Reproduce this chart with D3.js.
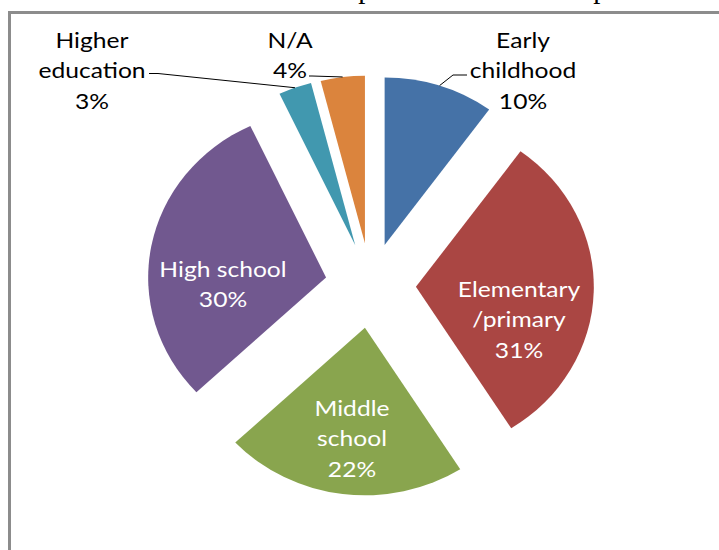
<!DOCTYPE html>
<html>
<head>
<meta charset="utf-8">
<script src="https://cdn.jsdelivr.net/npm/d3@7"></script>
<style>
  html, body { margin: 0; padding: 0; background: #fff; }
  svg { display: block; }
</style>
</head>
<body>
<svg id="chart" width="719" height="550"></svg>
<script>
// School levels and their share of respondents (percent)
const categories = ["Early childhood", "Elementary/primary", "Middle school", "High school", "Higher education", "N/A"];
const shares = [10, 31, 22, 30, 3, 4];
const labelLines = [["Early", "childhood"], ["Elementary", "/primary"], ["Middle", "school"], ["High school"], ["Higher", "education"], ["N/A"]];
const colors = ["#4572A7", "#AA4643", "#89A54E", "#71588F", "#4198AF", "#DB843D"];
const titleText = "Levels of schools represented in the sample";

// Layout
const W = 719, H = 550;
const cx = 370.6, cy = 285.5;      // pie centre
const R = 167.5;                    // radius (vertical)
const stretchX = 1.062;             // horizontal stretch of the plot area
const explode = 42.7;               // distance every slice is pulled out
const fontSize = 22;
const textStretch = 1.12;           // horizontal widening of label glyphs
const lineH = 30.5;

// Label blocks: centre x and first-line centre y; leader = elbow point for outside labels
const labelLayout = [
  { x: 523, y: 40, inside: false, leader: [[467, 75], [453, 75]] },
  { x: 519, y: 289, inside: true },
  { x: 352, y: 408, inside: true },
  { x: 223, y: 269, inside: true },
  { x: 92, y: 40, inside: false, leader: [[149, 73.5], [158, 73.5]] },
  { x: 290, y: 40, inside: false, leader: [[309, 76], [312, 76]] }
];

const svg = d3.select("#chart");

// Title (runs above the visible area)
svg.append("text")
  .attr("x", 128).attr("y", -2)
  .attr("font-family", "'Liberation Serif', 'DejaVu Serif', serif")
  .attr("font-size", 28.7)
  .attr("fill", "#000")
  .text(titleText);

// Chart area frame
svg.append("rect")
  .attr("x", 9.5).attr("y", 12.5)
  .attr("width", 800).attr("height", 700)
  .attr("fill", "none")
  .attr("stroke", "#8c8c8c")
  .attr("stroke-width", 3);

const pie = d3.pie().sort(null).value(d => d)(shares);
const arc = d3.arc().innerRadius(0).outerRadius(R);

// Offset of a slice along its bisector, in page pixels
function offset(d) {
  const a = (d.startAngle + d.endAngle) / 2;
  return [stretchX * explode * Math.sin(a), -explode * Math.cos(a)];
}
// Point on a slice's outer edge at its bisector, in page pixels
function rimPoint(d) {
  const a = (d.startAngle + d.endAngle) / 2;
  const [ox, oy] = offset(d);
  return [cx + ox + stretchX * R * Math.sin(a), cy + oy - R * Math.cos(a)];
}

const g = svg.append("g");
g.selectAll("path.slice")
  .data(pie)
  .join("path")
  .attr("class", "slice")
  .attr("transform", d => {
    const [ox, oy] = offset(d);
    return `translate(${cx + ox},${cy + oy}) scale(${stretchX},1)`;
  })
  .attr("d", arc)
  .attr("fill", (d, i) => colors[i]);

// Leader lines for the labels placed outside the pie
pie.forEach((d, i) => {
  const L = labelLayout[i];
  if (L.inside) return;
  const pts = L.leader.concat([rimPoint(d)]);
  svg.append("path")
    .attr("d", d3.line()(pts))
    .attr("fill", "none")
    .attr("stroke", "#000")
    .attr("stroke-width", 1);
});

// Data labels: category name lines plus percentage
pie.forEach((d, i) => {
  const L = labelLayout[i];
  const lines = labelLines[i].concat([`${shares[i]}%`]);
  const t = svg.append("g")
    .attr("transform", `translate(${L.x},0) scale(${textStretch},1)`)
    .append("text")
    .attr("text-anchor", "middle")
    .attr("font-family", "Lato, 'Open Sans', sans-serif")
    .attr("font-size", fontSize)
    .attr("fill", L.inside ? "#fff" : "#000");
  lines.forEach((s, k) => {
    t.append("tspan")
      .attr("x", 0)
      .attr("y", L.y + k * lineH)
      .attr("dy", "0.35em")
      .text(s);
  });
});
</script>
</body>
</html>
